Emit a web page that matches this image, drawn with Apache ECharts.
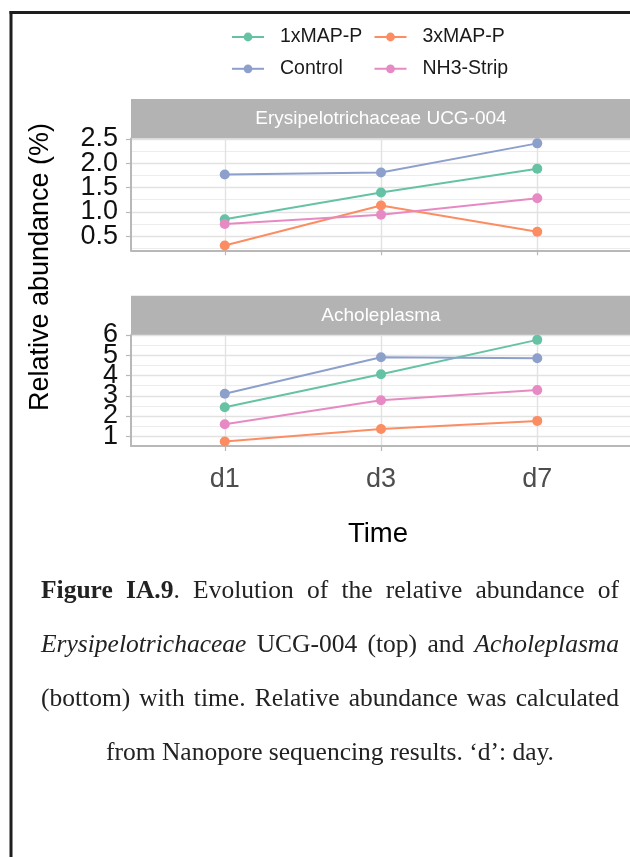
<!DOCTYPE html>
<html>
<head>
<meta charset="utf-8">
<script src="https://cdn.jsdelivr.net/npm/echarts@6/dist/echarts.min.js"></script>
<style>
  html, body { margin: 0; padding: 0; background: #fff; }
  #chart { position: absolute; left: 0; top: 0; width: 630px; height: 857px; }
  .cap {
    position: absolute; left: 41px; width: 578px;
    font-family: 'Liberation Serif', 'Times New Roman', serif;
    font-size: 25.5px; line-height: 30px; color: #222;
    text-align: justify; text-align-last: justify;
  }
  .cap.center { text-align: center; text-align-last: center; }
</style>
</head>
<body>
<div id="chart"></div>
<div class="cap" style="top:575px"><b>Figure IA.9</b>. Evolution of the relative abundance of</div>
<div class="cap" style="top:629px"><i>Erysipelotrichaceae</i> UCG-004 (top) and <i>Acholeplasma</i></div>
<div class="cap" style="top:683px">(bottom) with time. Relative abundance was calculated</div>
<div class="cap center" style="top:737px">from Nanopore sequencing results. ‘d’: day.</div>
<script>
// Sampling days and treatment groups
const categories = ['d1', 'd3', 'd7'];
const groups = ['1xMAP-P', '3xMAP-P', 'Control', 'NH3-Strip'];
const groupColors = ['#66c2a5', '#fc8d62', '#8da0cb', '#e78ac3'];

// Panel titles
const topTitle = 'Erysipelotrichaceae UCG-004';
const bottomTitle = 'Acholeplasma';

// Relative abundance (%) – Erysipelotrichaceae UCG-004
const erysi1x = [0.85, 1.40, 1.89];
const erysi3x = [0.31, 1.13, 0.59];
const erysiControl = [1.77, 1.81, 2.41];
const erysiNH3 = [0.75, 0.94, 1.28];

// Relative abundance (%) – Acholeplasma
const achol1x = [2.43, 4.06, 5.76];
const achol3x = [0.74, 1.36, 1.76];
const acholControl = [3.10, 4.90, 4.85];
const acholNH3 = [1.59, 2.78, 3.28];

// Axis breaks
const topTicks = [0.5, 1.0, 1.5, 2.0, 2.5];
const topMinor = [0.25, 0.75, 1.25, 1.75, 2.25];
const bottomTicks = [1, 2, 3, 4, 5, 6];
const bottomMinor = [1.5, 2.5, 3.5, 4.5, 5.5];

const topSeries = [erysi1x, erysi3x, erysiControl, erysiNH3];
const bottomSeries = [achol1x, achol3x, acholControl, acholNH3];

const FONT = 'Liberation Sans, Arial, sans-serif';
const GRID_MAJOR = '#e2e2e2';
const GRID_MINOR = '#ececec';
const AXIS_GREY = '#b8b8b8';
const STRIP_GREY = '#b3b3b3';

const panels = [
  { top: 138.5, height: 111.8, min: 0.21, max: 2.51, ticks: topTicks, minor: topMinor,
    fmt: v => v.toFixed(1), showX: false },
  { top: 335, height: 111, min: 0.52, max: 6.0, ticks: bottomTicks, minor: bottomMinor,
    fmt: v => String(v), showX: true }
];
const catIdx = categories.map((_, i) => i);

const grid = panels.map(p => ({
  left: 131, top: p.top, width: 500, height: p.height, outerBoundsMode: 'none', containLabel: false
}));

const xAxis = panels.map((p, i) => ({
  type: 'value', gridIndex: i, min: -0.6, max: 2.6,
  axisLine: { show: true, onZero: false, lineStyle: { color: AXIS_GREY, width: 2 } },
  axisTick: { show: true, length: 5, customValues: catIdx, lineStyle: { color: AXIS_GREY, width: 1.2 } },
  axisLabel: {
    show: p.showX, customValues: catIdx, margin: 20,
    showMinLabel: true, showMaxLabel: true, hideOverlap: false,
    formatter: v => categories[Math.round(v)],
    fontSize: 27, color: '#4d4d4d', fontFamily: FONT
  },
  splitLine: { show: true, lineStyle: { color: GRID_MAJOR, width: 1.4 } }
}));

// Tick labels are large relative to the break spacing, so alternate breaks are
// labelled from two stacked axes sharing the same scale.
const labelStyle = (p, values) => ({
  show: true, customValues: values, margin: 13, formatter: p.fmt, interval: 0,
  showMinLabel: true, showMaxLabel: true, hideOverlap: false,
  fontSize: 27, color: '#111', fontFamily: FONT
});

const yAxis = [];
panels.forEach((p, i) => {
  const evenTicks = p.ticks.filter((_, k) => k % 2 === 0);
  const oddTicks = p.ticks.filter((_, k) => k % 2 === 1);
  // minor gridlines + every other tick label
  yAxis.push({
    type: 'value', gridIndex: i, min: p.min, max: p.max, position: 'left', offset: 0,
    axisLine: { show: false, onZero: false },
    axisTick: { show: false, customValues: p.minor },
    axisLabel: labelStyle(p, oddTicks),
    splitLine: { show: true, lineStyle: { color: GRID_MINOR, width: 1 } }
  });
  // major gridlines, ticks and the remaining labels
  yAxis.push({
    type: 'value', gridIndex: i, min: p.min, max: p.max, position: 'left', offset: 0,
    axisLine: { show: true, onZero: false, lineStyle: { color: AXIS_GREY, width: 2 } },
    axisTick: { show: true, length: 5, customValues: p.ticks, lineStyle: { color: AXIS_GREY, width: 1.2 } },
    axisLabel: labelStyle(p, evenTicks),
    splitLine: { show: true, lineStyle: { color: GRID_MAJOR, width: 1.4 } }
  });
});

const series = [];
[topSeries, bottomSeries].forEach((set, panel) => {
  set.forEach((vals, g) => {
    series.push({
      name: groups[g], type: 'line',
      xAxisIndex: panel, yAxisIndex: panel * 2 + 1,
      data: vals.map((v, k) => [k, v]),
      symbol: 'circle', symbolSize: 10, showSymbol: true,
      color: groupColors[g],
      lineStyle: { width: 2, color: groupColors[g] },
      itemStyle: { color: groupColors[g] },
      emphasis: { disabled: true },
      animation: false, z: 3
    });
  });
});

const legendCommon = {
  orient: 'vertical', padding: 0, itemWidth: 32, itemHeight: 11, itemGap: 11.8,
  textStyle: { fontSize: 19.5, color: '#1a1a1a', fontFamily: FONT, padding: [0, 0, 0, 11] },
  selectedMode: false
};

const stripText = (txt, cy) => ({
  type: 'text', x: 381, y: cy,
  style: { text: txt, fill: '#fff', fontSize: 19, fontFamily: FONT, align: 'center', verticalAlign: 'middle' }
});

const option = {
  backgroundColor: '#fff',
  animation: false,
  textStyle: { fontFamily: FONT },
  grid, xAxis, yAxis, series,
  legend: [
    Object.assign({ data: [groups[0], groups[2]], left: 231, top: 27 }, legendCommon),
    Object.assign({ data: [groups[1], groups[3]], left: 373.5, top: 27 }, legendCommon)
  ],
  graphic: [
    // outer frame
    { type: 'line', shape: { x1: 11, y1: 11, x2: 11, y2: 857 }, style: { stroke: '#1e1e1e', lineWidth: 3 } },
    { type: 'line', shape: { x1: 9.5, y1: 12.5, x2: 630, y2: 12.5 }, style: { stroke: '#1e1e1e', lineWidth: 3 } },
    // facet strips
    { type: 'rect', shape: { x: 131, y: 99, width: 500, height: 39.5 }, style: { fill: STRIP_GREY } },
    stripText(topTitle, 118.5),
    { type: 'rect', shape: { x: 131, y: 295.7, width: 500, height: 39.3 }, style: { fill: STRIP_GREY } },
    stripText(bottomTitle, 315.3),
    // axis titles
    { type: 'text', x: 41, y: 267, rotation: Math.PI / 2,
      style: { text: 'Relative abundance (%)', fill: '#000', fontSize: 27, fontFamily: FONT, align: 'center', verticalAlign: 'middle' } },
    { type: 'text', x: 378, y: 534,
      style: { text: 'Time', fill: '#000', fontSize: 27.5, fontFamily: FONT, align: 'center', verticalAlign: 'middle' } }
  ]
};

const chart = echarts.init(document.getElementById('chart'), null, { renderer: 'canvas' });
chart.setOption(option);
</script>
</body>
</html>
